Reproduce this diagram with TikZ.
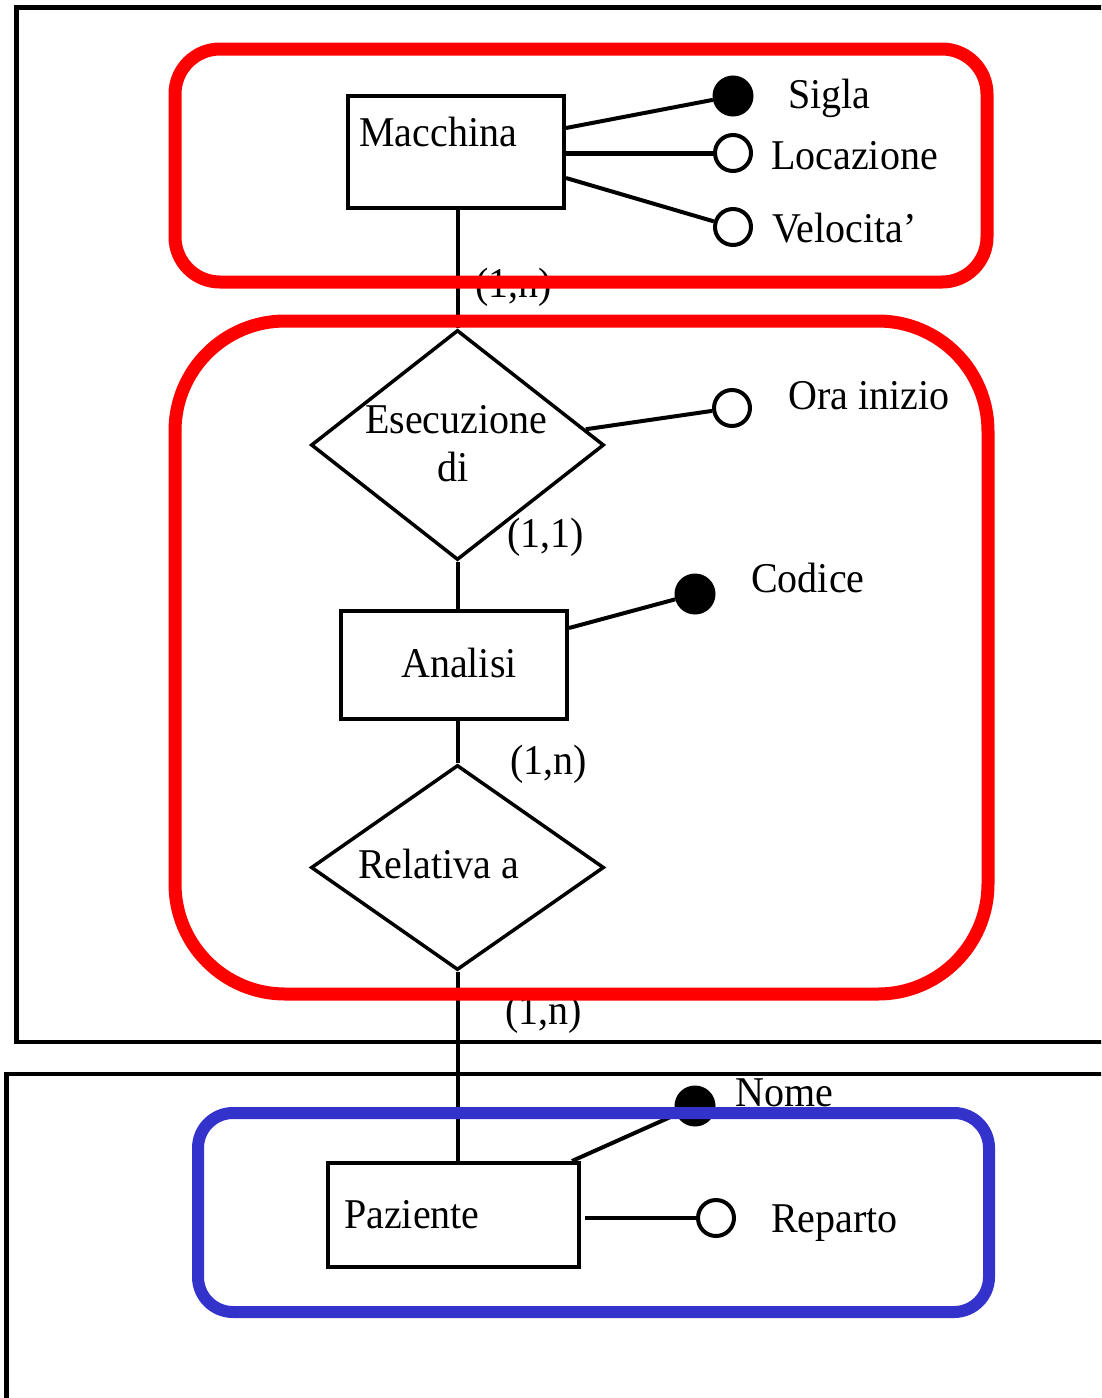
\documentclass[tikz,border=0pt]{standalone}
\usepackage{fontspec}
\setmainfont{Liberation Serif}
\usetikzlibrary{shapes.geometric}
\definecolor{boxred}{RGB}{255,0,0}
\definecolor{boxblue}{RGB}{51,51,204}
\begin{document}
\begin{tikzpicture}[x=1pt,y=-1pt,
  every node/.style={font=\fontsize{40}{48}\selectfont},
  ent/.style={draw,line width=4pt,rectangle,inner sep=0pt},
  rel/.style={draw,line width=3.5pt,diamond,inner sep=0pt,aspect=1},
  attrk/.style={draw,circle,fill=black,line width=3pt,minimum size=38pt,inner sep=0pt},
  attro/.style={draw,circle,fill=white,line width=4pt,minimum size=36pt,inner sep=0pt},
  txt/.style={anchor=base west,inner sep=0pt,yscale=1.06},
  card/.style={anchor=base west,inner sep=0pt,yscale=1.06},
  conn/.style={line width=4pt},
  frame/.style={line width=4.5pt},
  grp/.style={line width=13pt}]
\useasboundingbox (0,0) rectangle (1101,1398);
\clip (0,0) rectangle (1101,1398);
% outer frames
\draw[frame] (1120,7.5) -- (16.5,7.5) -- (16.5,1042) -- (1120,1042);
\draw[frame] (1120,1074) -- (6.5,1074) -- (6.5,1420);
% entities
\node[ent,minimum width=216pt,minimum height=112pt] (macchina) at (456,152) {};
\node[txt] (macchinaT) at (359,146) {Macchina};
\node[ent,minimum width=226pt,minimum height=108pt] (analisi) at (454,665) {};
\node[txt] (analisiT) at (401,677) {Analisi};
\node[ent,minimum width=251pt,minimum height=104pt] (paziente) at (453.5,1215) {};
\node[txt] (pazienteT) at (344,1228) {Paziente};
% relationships
\node[rel,minimum width=293pt,minimum height=230pt] (esec) at (457.5,445) {};
\node[txt] (esecT1) at (365,433) {Esecuzione};
\node[txt] (esecT2) at (437,481) {di};
\node[rel,minimum width=293pt,minimum height=205pt] (relat) at (457.5,867.5) {};
\node[txt] (relatT) at (358,878) {Relativa a};
% attributes
\node[attrk] (sigla) at (733,96) {};
\node[attro] (locaz) at (733,153) {};
\node[attro] (veloc) at (733,227) {};
\node[attro] (ora) at (732,408) {};
\node[attrk] (codice) at (695,594) {};
\node[attrk] (nome) at (695,1106) {};
\node[attro] (reparto) at (716,1218) {};
\node[txt] at (788,108) {Sigla};
\node[txt] at (771,169) {Locazione};
\node[txt] at (772,242) {Velocita’};
\node[txt] at (788,409) {Ora inizio};
\node[txt] at (751,592) {Codice};
\node[txt] at (735,1106) {Nome};
\node[txt] at (771,1232) {Reparto};
% connectors
\draw[conn] (esec.north) -- (esec.north |- macchina.south);
\draw[conn] (esec.south) -- (esec.south |- analisi.north);
\draw[conn] (relat.north) -- (relat.north |- analisi.south);
\draw[conn] (relat.south) -- (relat.south |- paziente.north);
\draw[conn] ([yshift=-34pt]macchina.north east) -- (sigla);
\draw[line width=5pt] ([yshift=-1pt]macchina.east) -- (locaz);
\draw[conn] ([yshift=-84pt]macchina.north east) -- (veloc);
\draw[conn] (esec.7) -- (ora);
\draw[conn] ([yshift=-19pt]analisi.north east) -- (codice);
\draw[conn] ([xshift=-9pt]paziente.north east) -- (nome);
\draw[conn] ([xshift=4pt,yshift=-3pt]paziente.east) -- (reparto);
% cardinalities
\node[card] (c1) at (475,297) {(1,n)};
\node[card] (c2) at (507,547) {(1,1)};
\node[card] (c3) at (510,774) {(1,n)};
\node[card] (c4) at (505,1024) {(1,n)};
% groups
\draw[grp,boxred,rounded corners=45pt] (175,49) rectangle (987,282);
\draw[grp,boxred,rounded corners=110pt] (175,321) rectangle (988,994);
\draw[line width=12pt,boxblue,rounded corners=35pt] (198,1113) rectangle (989,1312);
\end{tikzpicture}
\end{document}
